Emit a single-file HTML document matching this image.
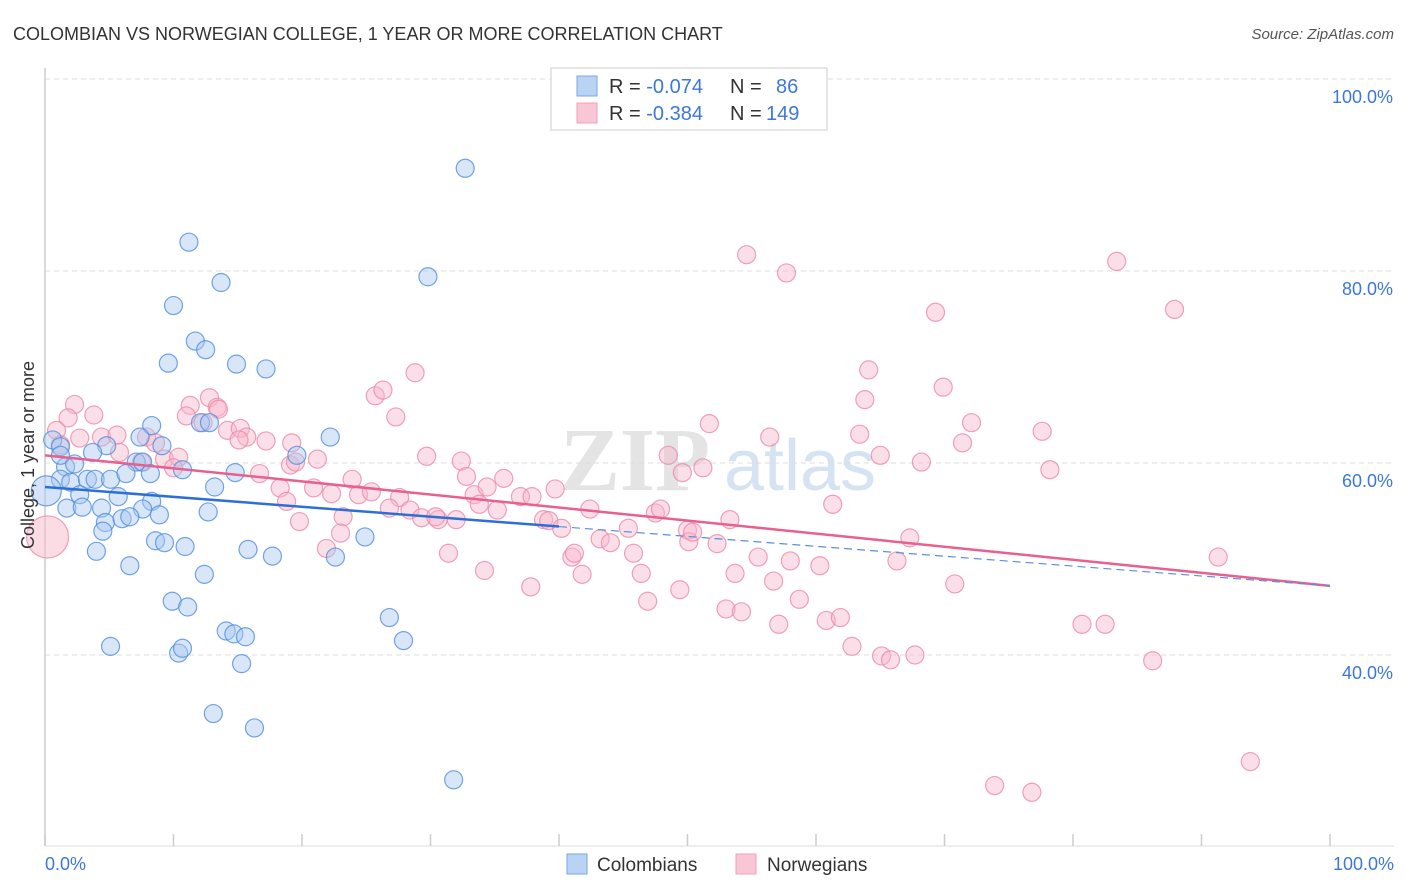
<!DOCTYPE html>
<html><head><meta charset="utf-8"><style>
body{margin:0;background:#fff;font-family:"Liberation Sans",sans-serif}
svg{display:block}
</style></head><body>
<svg id="chart" width="1406" height="892">
<text x="13" y="40" font-size="18" fill="#333">COLOMBIAN VS NORWEGIAN COLLEGE, 1 YEAR OR MORE CORRELATION CHART</text>
<text x="1394" y="39" font-size="15" fill="#555" font-style="italic" text-anchor="end">Source: ZipAtlas.com</text>
<text x="635" y="490" font-size="90" fill="#e4e4e4" font-family="Liberation Serif" font-weight="bold" text-anchor="middle">ZIP</text>
<text x="800" y="490" font-size="72" fill="#d5e3f3" text-anchor="middle">atlas</text>
<g id="grid"></g><g id="axes"></g><g id="marks"></g><g id="lines"></g>
<text transform="translate(34,455) rotate(-90)" font-size="18" fill="#333" text-anchor="middle">College, 1 year or more</text>
<text x="45" y="870" font-size="18" fill="#3b78d8">0.0%</text>
<text x="1394" y="870" font-size="18" fill="#3b78d8" text-anchor="end">100.0%</text>
<g>
<rect x="551" y="68" width="276" height="62" fill="#fff" stroke="#ddd" stroke-width="1.5"/>
<rect x="577" y="76" width="20" height="20" fill="#b9d3f5" stroke="#7aa7e6"/>
<rect x="577" y="103" width="20" height="20" fill="#f9c6d5" stroke="#eea0b8"/>
<text x="609" y="93" font-size="20" fill="#333">R = <tspan fill="#3b78d8">-0.074</tspan><tspan x="730">N = </tspan><tspan x="776" fill="#3b78d8">86</tspan></text>
<text x="609" y="120" font-size="20" fill="#333">R = <tspan fill="#3b78d8">-0.384</tspan><tspan x="730">N = </tspan><tspan x="766" fill="#3b78d8">149</tspan></text>
</g>
<g>
<rect x="567" y="854" width="20" height="20" fill="#b9d3f5" stroke="#7aa7e6"/>
<text x="597" y="871" font-size="19" fill="#333">Colombians</text>
<rect x="736" y="854" width="20" height="20" fill="#f9c6d5" stroke="#eea0b8"/>
<text x="767" y="871" font-size="19" fill="#333">Norwegians</text>
</g>
</svg>
<script>
const yTicks=[100,80,60,40];
const xTickCount=10;
const colX=[32.7,11.2,29.8,13.7,10.0,11.7,12.5,9.6,14.9,17.2,0.6,1.2,4.8,8.3,12.1,12.8,22.2,9.1,7.4,19.6,1.6,2.3,3.7,7.1,7.6,10.7,14.8,1.2,2.0,3.3,3.9,5.1,6.3,8.2,13.2,2.7,5.7,8.3,1.7,2.9,4.4,7.6,8.9,12.7,4.7,6.0,6.6,4.5,0.1,8.6,9.3,10.9,15.8,17.7,22.6,24.9,4.0,6.6,12.4,9.9,11.1,26.8,14.1,14.7,15.6,5.1,10.4,10.7,27.9,15.3,13.1,16.3,31.8,1.2];
const colY=[90.7,83.0,79.4,78.8,76.4,72.7,71.8,70.4,70.3,69.8,62.4,61.7,61.8,63.9,64.2,64.2,62.7,61.8,62.7,60.8,59.6,59.9,61.1,60.1,60.1,59.3,59.0,58.3,58.0,58.3,58.3,58.3,58.9,58.9,57.5,56.7,56.5,56.0,55.3,55.4,55.3,55.2,54.6,54.9,53.8,54.2,54.4,52.9,57.1,51.9,51.7,51.3,51.0,50.3,50.2,52.3,50.8,49.3,48.4,45.6,45.0,43.9,42.5,42.2,41.9,40.9,40.2,40.7,41.5,39.1,33.9,32.4,27.0,60.8];
const norX=[0.2,2.3,1.8,3.8,0.9,1.2,2.7,4.4,5.6,5.8,7.9,8.6,9.3,7.5,10.4,11.3,12.8,13.4,12.3,14.2,15.2,15.7,17.2,11.0,10.0,13.5,15.1,16.7,19.1,19.5,21.2,19.2,18.3,20.9,19.8,18.8,21.9,23.2,23.0,22.3,23.9,24.4,25.4,25.7,26.3,27.3,28.8,27.6,26.8,28.4,29.7,29.3,30.6,31.4,30.4,32.0,32.4,32.8,33.4,34.4,33.8,35.2,35.7,37.0,37.9,34.2,37.8,38.8,39.7,39.2,40.2,41.0,41.2,41.8,42.4,43.2,44.0,45.4,45.8,46.4,46.9,47.5,47.9,48.5,49.4,49.6,50.0,50.1,50.4,51.2,51.7,52.3,53.0,53.3,53.7,54.2,54.6,55.5,56.4,56.7,57.7,58.0,58.7,57.1,60.3,60.8,61.9,61.3,62.8,63.4,63.8,64.1,65.0,65.1,65.8,66.3,67.3,67.7,68.2,69.3,69.9,70.8,71.4,72.1,73.9,76.8,77.6,78.2,80.7,82.5,83.4,86.2,87.9,91.3,93.8];
const norY=[52.3,66.1,64.7,65.0,63.4,61.9,62.6,62.7,62.9,61.1,62.7,62.1,60.4,60.1,60.6,66.0,66.8,65.8,64.2,63.4,63.6,62.7,62.3,64.9,59.5,65.6,62.4,58.9,59.8,60.1,60.4,62.1,57.4,57.4,53.9,56.0,51.1,54.4,52.7,56.8,58.3,56.7,57.0,67.0,67.6,64.8,69.4,56.4,55.3,55.1,60.7,54.3,54.1,50.6,54.4,54.1,60.2,58.6,56.7,57.5,55.7,55.1,58.4,56.5,56.5,48.8,47.1,54.1,57.3,54.0,53.2,50.2,50.6,48.4,55.2,52.1,51.7,53.2,50.6,48.5,45.6,54.8,55.2,60.8,46.8,59.0,53.0,51.8,52.8,59.5,64.1,51.6,44.8,54.1,48.5,44.5,81.7,50.2,62.7,47.7,79.8,49.8,45.8,43.2,49.3,43.6,43.9,55.7,40.9,63.0,66.6,69.7,60.8,39.9,39.5,49.8,52.2,40.0,60.1,75.7,67.9,47.4,62.1,64.2,26.4,25.7,63.3,59.3,43.2,43.2,81.0,39.4,76.0,50.2,28.9];
const colTrend=[57.5,47.2];
const norTrend=[60.8,47.2];
const X0=45,X1=1330,Y100=79,Y40=655;
const sx=v=>X0+(X1-X0)*v/100;
const sy=v=>Y100+(100-v)*(Y40-Y100)/60;
const NS='http://www.w3.org/2000/svg';
function mk(tag,attrs,parent){const e=document.createElementNS(NS,tag);for(const k in attrs)e.setAttribute(k,attrs[k]);parent.appendChild(e);return e;}
const grid=document.getElementById('grid'),axes=document.getElementById('axes'),marks=document.getElementById('marks'),lines=document.getElementById('lines');
yTicks.forEach(t=>{
 const l=mk('line',{x1:X0,x2:1394,y1:sy(t),y2:sy(t),stroke:'#ddd','stroke-dasharray':'5,4'},grid);
 
 
 const tx=mk('text',{x:1393,y:sy(t)+24,'font-size':18,fill:'#3b78d8','text-anchor':'end'},grid);
 tx.textContent=t.toFixed(1)+'%';
 
 
});
const ya=mk('line',{x1:X0,x2:X0,y1:68,y2:846,stroke:'#ccc','stroke-width':1.5},axes);


const xa=mk('line',{x1:X0,x2:1394,y1:846,y2:846,stroke:'#ddd','stroke-width':1},axes);


for(let i=0;i<=xTickCount;i++){
 const v=i*100/xTickCount;
 const t=mk('line',{x1:sx(v),x2:sx(v),y1:834,y2:846,stroke:'#ccc','stroke-width':1.5},axes);
 
 
}
function pts(xs,ys,fill,stroke,name){
 xs.forEach((x,i)=>{
  const big=(x<0.5);
  const c=mk('circle',{cx:sx(x),cy:sy(ys[i]),r:big?(name==='norwegian-point'?21:15):9,fill:fill,'fill-opacity':big?0.5:0.45,stroke:stroke,'stroke-width':1.2,'stroke-opacity':0.8},marks);
  
  
 });
}
pts(norX,norY,'#f7b9cc','#ec8aa8','norwegian-point');
pts(colX,colY,'#a9c8f0','#4f8ee0','colombian-point');
const ty=(tr,x)=>tr[0]+(tr[1]-tr[0])*x/100;
const l1=mk('line',{x1:sx(0),y1:sy(ty(norTrend,0)),x2:sx(100),y2:sy(ty(norTrend,100)),stroke:'#e8608e','stroke-width':2.5},lines);


const l2=mk('line',{x1:sx(0),y1:sy(ty(colTrend,0)),x2:sx(40),y2:sy(ty(colTrend,40)),stroke:'#2d6fd6','stroke-width':2.5},lines);


const l3=mk('line',{x1:sx(40),y1:sy(ty(colTrend,40)),x2:sx(100),y2:sy(ty(colTrend,100)),stroke:'#5a8fe0','stroke-width':1.2,'stroke-dasharray':'8,5'},lines);


</script>
</body></html>
